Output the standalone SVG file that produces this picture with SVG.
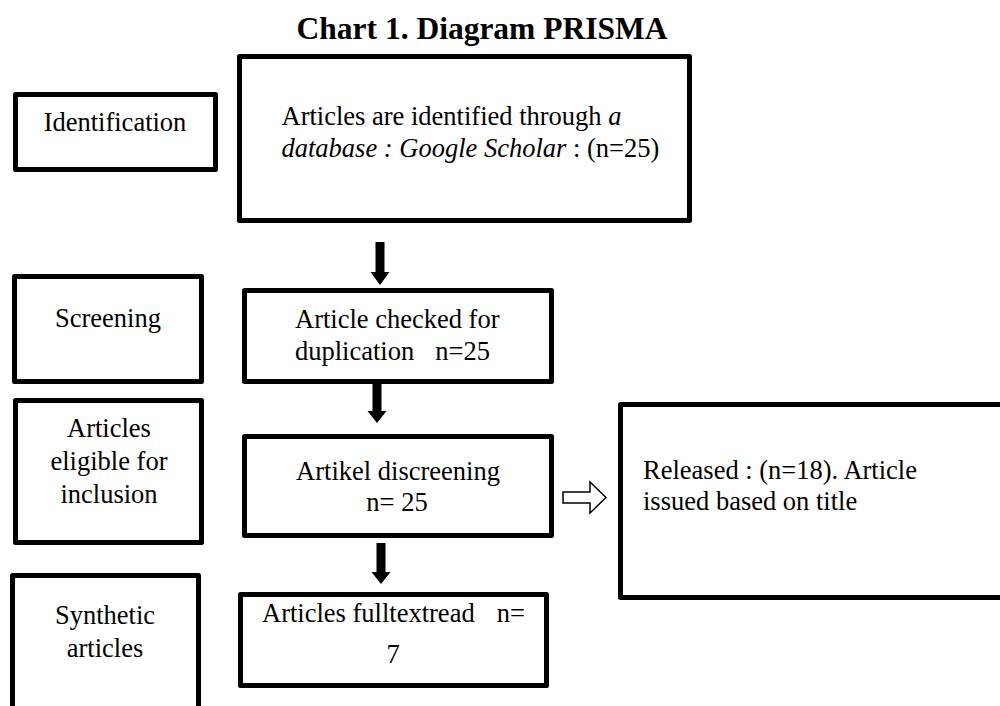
<svg xmlns="http://www.w3.org/2000/svg" width="1000" height="706" viewBox="0 0 1000 706">
<style>
.box{fill:#fff;stroke:#000;stroke-width:5;stroke-linejoin:round}
.t{font-family:"Liberation Serif","Times New Roman",serif;font-size:26.5px;fill:#000}
.c{text-anchor:middle}
.i{font-style:italic}
.title{font-family:"Liberation Serif","Times New Roman",serif;font-size:31.5px;font-weight:bold;text-anchor:middle}
.arr{fill:#000}
.hollow{fill:#fff;stroke:#000;stroke-width:1.5;stroke-linejoin:miter}
</style>
<rect width="1000" height="706" fill="#fff"/>
<text class="title" x="482" y="39">Chart 1. Diagram PRISMA</text>

<g id="identification">
<rect class="box" x="15.5" y="94.5" width="200" height="75"/>
<text class="t c" x="115" y="131">Identification</text>
</g>
<g id="identified">
<rect class="box" x="239.5" y="56.5" width="450" height="164"/>
<text class="t" x="281.5" y="125">Articles are identified through <tspan class="i">a</tspan></text>
<text class="t" x="281.5" y="157"><tspan class="i">database : Google Scholar</tspan> : (n=25)</text>
</g>
<g id="screening">
<rect class="box" x="14.5" y="276.5" width="187" height="105"/>
<text class="t c" x="108" y="327">Screening</text>
</g>
<g id="checked">
<rect class="box" x="244.5" y="290.5" width="307" height="91"/>
<text class="t" x="295" y="328">Article checked for</text>
<text class="t" x="295" y="360">duplication</text>
<text class="t" x="490" y="360" text-anchor="end">n=25</text>
</g>
<g id="eligible">
<rect class="box" x="15.5" y="400.5" width="186" height="142"/>
<text class="t c" x="109" y="437">Articles</text>
<text class="t c" x="109" y="470">eligible for</text>
<text class="t c" x="109" y="503">inclusion</text>
</g>
<g id="discreening">
<rect class="box" x="244.5" y="436.5" width="307" height="99"/>
<text class="t c" x="398" y="480">Artikel discreening</text>
<text class="t c" x="397" y="511">n= 25</text>
</g>
<g id="released">
<rect class="box" x="620.5" y="404.5" width="400" height="193"/>
<text class="t" x="643" y="479">Released : (n=18). Article</text>
<text class="t" x="643" y="510">issued based on title</text>
</g>
<g id="synthetic">
<rect class="box" x="12.5" y="575.5" width="186" height="200"/>
<text class="t c" x="105" y="624">Synthetic</text>
<text class="t c" x="105" y="657">articles</text>
</g>
<g id="fulltext">
<rect class="box" x="240.5" y="594.5" width="306" height="91"/>
<text class="t" x="262" y="622">Articles fulltextread</text>
<text class="t" x="525" y="622" text-anchor="end">n=</text>
<text class="t c" x="393" y="663">7</text>
</g>

<g id="connectors">
<polygon class="arr" points="375.5,242 384.5,242 384.5,272 389.5,272 380,285 370.5,272 375.5,272"/>
<polygon class="arr" points="372.5,384 381.5,384 381.5,411 386.5,411 377,423 367.5,411 372.5,411"/>
<polygon class="arr" points="376.5,543 385.5,543 385.5,572 390.5,572 381,584 371.5,572 376.5,572"/>
<polygon class="hollow" points="563,492 590,492 590,482 606,497.5 590,513 590,503 563,503"/>
</g>
</svg>
